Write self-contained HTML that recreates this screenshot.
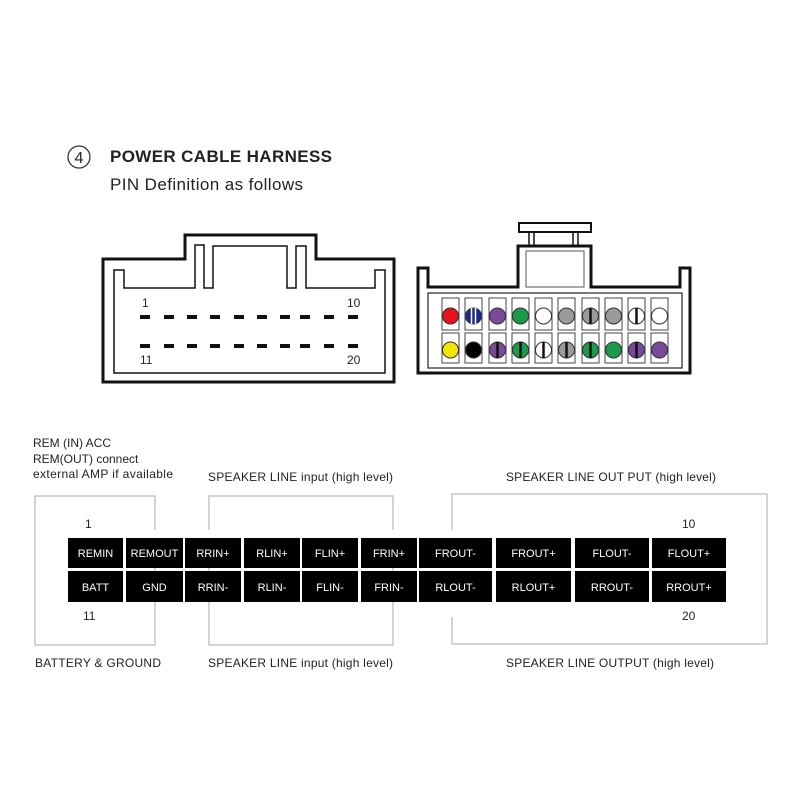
<!DOCTYPE html>
<html><head><style>body{margin:0;background:#fff}svg{display:block}text{font-family:"Liberation Sans",sans-serif}</style></head><body>
<svg width="800" height="800" viewBox="0 0 800 800">
<rect width="800" height="800" fill="#fff"/>
<circle cx="79" cy="157" r="11" fill="none" stroke="#333" stroke-width="1.3"/>
<text x="79" y="163" font-size="16" text-anchor="middle" fill="#222">4</text>
<text x="110" y="162" font-size="17" font-weight="bold" fill="#222" textLength="222">POWER CABLE HARNESS</text>
<text x="110" y="190" font-size="17" fill="#222" textLength="193">PIN Definition as follows</text>
<path d="M103,259 H185 V235 H316 V259 H394 V382 H103 Z" fill="none" stroke="#111" stroke-width="3"/>
<path d="M114,270 H124 V288 H195 V245 H204 V288 H213 V246 H287 V288 H296 V246 H306 V288 H375 V270 H385 V373 H114 Z" fill="none" stroke="#111" stroke-width="1.5"/>
<g fill="#111">
<rect x="140" y="315" width="10" height="4"/><rect x="164" y="315" width="10" height="4"/><rect x="187" y="315" width="10" height="4"/><rect x="210" y="315" width="10" height="4"/><rect x="234" y="315" width="10" height="4"/><rect x="257" y="315" width="10" height="4"/><rect x="280" y="315" width="10" height="4"/><rect x="300" y="315" width="10" height="4"/><rect x="324" y="315" width="10" height="4"/><rect x="348" y="315" width="10" height="4"/>
<rect x="140" y="344" width="10" height="4"/><rect x="164" y="344" width="10" height="4"/><rect x="187" y="344" width="10" height="4"/><rect x="210" y="344" width="10" height="4"/><rect x="234" y="344" width="10" height="4"/><rect x="257" y="344" width="10" height="4"/><rect x="280" y="344" width="10" height="4"/><rect x="300" y="344" width="10" height="4"/><rect x="324" y="344" width="10" height="4"/><rect x="348" y="344" width="10" height="4"/>
</g>
<g font-size="12" fill="#222"><text x="142" y="307">1</text><text x="347" y="307">10</text><text x="140" y="364">11</text><text x="347" y="364">20</text></g>
<path d="M418,268 H428 V287 H518 V246 H591 V287 H680 V268 H690 V373 H418 Z" fill="none" stroke="#111" stroke-width="3"/>
<rect x="519" y="223" width="72" height="9" fill="none" stroke="#111" stroke-width="2"/>
<rect x="529" y="232" width="5" height="14" fill="none" stroke="#111" stroke-width="1.5"/>
<rect x="573" y="232" width="5" height="14" fill="none" stroke="#111" stroke-width="1.5"/>
<rect x="526" y="251" width="58" height="36" fill="none" stroke="#555" stroke-width="1"/>
<rect x="428" y="293" width="254" height="75" fill="none" stroke="#333" stroke-width="1.3"/>
<g stroke="#444" stroke-width="1" fill="none">
<rect x="442" y="298" width="17" height="32"/><rect x="465" y="298" width="17" height="32"/><rect x="489" y="298" width="17" height="32"/><rect x="512" y="298" width="17" height="32"/><rect x="535" y="298" width="17" height="32"/><rect x="558" y="298" width="17" height="32"/><rect x="582" y="298" width="17" height="32"/><rect x="605" y="298" width="17" height="32"/><rect x="628" y="298" width="17" height="32"/><rect x="651" y="298" width="17" height="32"/>
<rect x="442" y="333" width="17" height="30"/><rect x="465" y="333" width="17" height="30"/><rect x="489" y="333" width="17" height="30"/><rect x="512" y="333" width="17" height="30"/><rect x="535" y="333" width="17" height="30"/><rect x="558" y="333" width="17" height="30"/><rect x="582" y="333" width="17" height="30"/><rect x="605" y="333" width="17" height="30"/><rect x="628" y="333" width="17" height="30"/><rect x="651" y="333" width="17" height="30"/>
</g>
<g stroke="#333" stroke-width="1">
<circle cx="450.5" cy="316" r="8" fill="#e8101a"/>
<circle cx="473.5" cy="316" r="8" fill="#1a2a8a"/>
<circle cx="497.5" cy="316" r="8" fill="#7a4a9a"/>
<circle cx="520.5" cy="316" r="8" fill="#1a9a4a"/>
<circle cx="543.5" cy="316" r="8" fill="#fff"/>
<circle cx="566.5" cy="316" r="8" fill="#9a9a9a"/>
<circle cx="590.5" cy="316" r="8" fill="#9a9a9a"/>
<circle cx="613.5" cy="316" r="8" fill="#9a9a9a"/>
<circle cx="636.5" cy="316" r="8" fill="#fff"/>
<circle cx="659.5" cy="316" r="8" fill="#fff"/>
<circle cx="450.5" cy="350" r="8" fill="#f5e600"/>
<circle cx="473.5" cy="350" r="8" fill="#000"/>
<circle cx="497.5" cy="350" r="8" fill="#7a4a9a"/>
<circle cx="520.5" cy="350" r="8" fill="#1a9a4a"/>
<circle cx="543.5" cy="350" r="8" fill="#fff"/>
<circle cx="566.5" cy="350" r="8" fill="#9a9a9a"/>
<circle cx="590.5" cy="350" r="8" fill="#1a9a4a"/>
<circle cx="613.5" cy="350" r="8" fill="#1a9a4a"/>
<circle cx="636.5" cy="350" r="8" fill="#7a4a9a"/>
<circle cx="659.5" cy="350" r="8" fill="#7a4a9a"/>
</g>
<g stroke="#fff" stroke-width="1.5"><line x1="471.5" y1="308" x2="471.5" y2="324"/><line x1="475.5" y1="308" x2="475.5" y2="324"/></g>
<g stroke="#111" stroke-width="2.5">
<line x1="590.5" y1="308" x2="590.5" y2="324"/><line x1="636.5" y1="308" x2="636.5" y2="324"/>
<line x1="497.5" y1="342" x2="497.5" y2="358"/><line x1="520.5" y1="342" x2="520.5" y2="358"/><line x1="543.5" y1="342" x2="543.5" y2="358"/><line x1="566.5" y1="342" x2="566.5" y2="358"/><line x1="590.5" y1="342" x2="590.5" y2="358"/><line x1="636.5" y1="342" x2="636.5" y2="358"/>
</g>
<g font-size="12" fill="#222">
<text x="33" y="447">REM (IN) ACC</text>
<text x="33" y="463">REM(OUT) connect</text>
<text x="33" y="478" textLength="140">external AMP if available</text>
<text x="208" y="481" textLength="185">SPEAKER LINE input (high level)</text>
<text x="506" y="481" textLength="210">SPEAKER LINE OUT PUT (high level)</text>
<text x="35" y="667" textLength="126">BATTERY &amp; GROUND</text>
<text x="208" y="667" textLength="185">SPEAKER LINE input (high level)</text>
<text x="506" y="667" textLength="208">SPEAKER LINE OUTPUT (high level)</text>
<text x="85" y="528">1</text><text x="682" y="528">10</text>
<text x="83" y="620">11</text><text x="682" y="620">20</text>
</g>
<g stroke="#aaa" stroke-width="1" fill="none">
<path d="M155,530 V496 H35 V645 H155 V555"/>
<path d="M209,530 V496 H393 V530"/>
<path d="M209,555 V645 H393 V555"/>
<path d="M452,530 V494 H767 V644 H452 V617"/>
</g>
<g fill="#000">
<rect x="68" y="538" width="55" height="30"/><rect x="126" y="538" width="57" height="30"/><rect x="185" y="538" width="56" height="30"/><rect x="244" y="538" width="56" height="30"/><rect x="302" y="538" width="56" height="30"/><rect x="361" y="538" width="56" height="30"/><rect x="419" y="538" width="73" height="30"/><rect x="496" y="538" width="75" height="30"/><rect x="575" y="538" width="74" height="30"/><rect x="652" y="538" width="74" height="30"/>
<rect x="68" y="571" width="55" height="31"/><rect x="126" y="571" width="57" height="31"/><rect x="185" y="571" width="56" height="31"/><rect x="244" y="571" width="56" height="31"/><rect x="302" y="571" width="56" height="31"/><rect x="361" y="571" width="56" height="31"/><rect x="419" y="571" width="73" height="31"/><rect x="496" y="571" width="75" height="31"/><rect x="575" y="571" width="74" height="31"/><rect x="652" y="571" width="74" height="31"/>
</g>
<g font-size="11" fill="#fff" text-anchor="middle">
<text x="95.5" y="557">REMIN</text><text x="154.5" y="557">REMOUT</text><text x="213" y="557">RRIN+</text><text x="272" y="557">RLIN+</text><text x="330" y="557">FLIN+</text><text x="389" y="557">FRIN+</text><text x="455.5" y="557">FROUT-</text><text x="533.5" y="557">FROUT+</text><text x="612" y="557">FLOUT-</text><text x="689" y="557">FLOUT+</text>
<text x="95.5" y="591">BATT</text><text x="154.5" y="591">GND</text><text x="213" y="591">RRIN-</text><text x="272" y="591">RLIN-</text><text x="330" y="591">FLIN-</text><text x="389" y="591">FRIN-</text><text x="455.5" y="591">RLOUT-</text><text x="533.5" y="591">RLOUT+</text><text x="612" y="591">RROUT-</text><text x="689" y="591">RROUT+</text>
</g>
</svg>
</body></html>
